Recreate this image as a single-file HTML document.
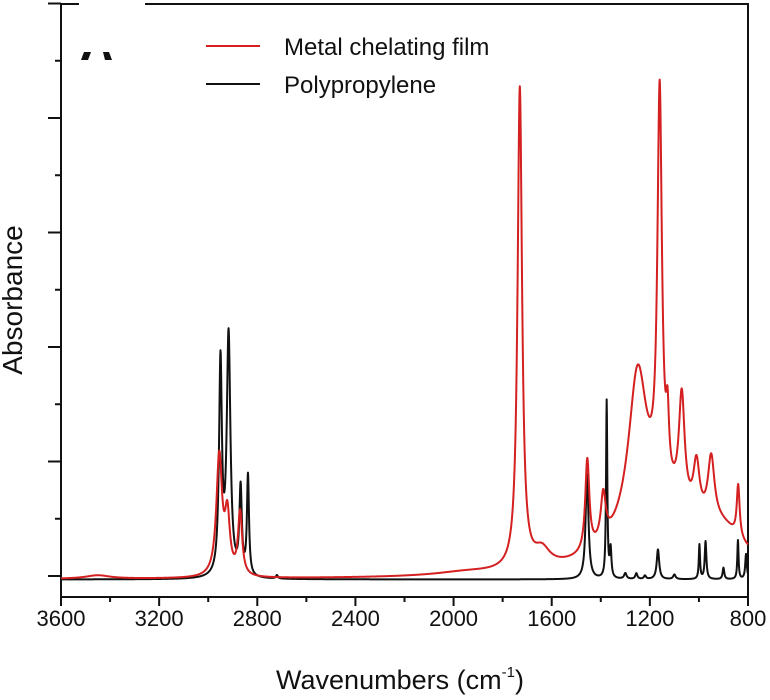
<!DOCTYPE html>
<html><head><meta charset="utf-8"><style>
html,body{margin:0;padding:0;background:#fff;width:770px;height:700px;overflow:hidden}
svg{display:block}
text{font-family:"Liberation Sans",Arial,sans-serif}
</style></head><body>
<svg id="chart" width="770" height="700" viewBox="0 0 770 700">
<g id="axes"></g>
<g id="series"></g>
<g>
<rect x="79" y="0" width="66" height="48" fill="#fff"/>
<path d="M81 60 L84 52 L91 52 L88 60 Z M103 52 L109 52 L112 60 L105 60 Z" fill="#111"/>
</g>
<g>
<line x1="206" y1="46" x2="260" y2="46" stroke="#d42020" stroke-width="2"/>
<text x="284" y="55" font-size="24" fill="#111">Metal chelating film</text>
<line x1="206" y1="84" x2="260" y2="84" stroke="#111" stroke-width="2"/>
<text x="284" y="93" font-size="24" fill="#111">Polypropylene</text>
</g>
<text x="22" y="300" font-size="28" fill="#111" text-anchor="middle" transform="rotate(-90 22 300)">Absorbance</text>
<text x="400" y="689" font-size="27" fill="#111" text-anchor="middle">Wavenumbers (cm<tspan font-size="15" dy="-12">-1</tspan><tspan dy="12">)</tspan></text>
</svg>
<script>
// data
const xTicks = [3600,3200,2800,2400,2000,1600,1200,800];
const ppCenters = [2950,2917,2868,2838,2720,1456,1376,1360,1300,1255,1220,1167,1100,998,973,900,841,808];
const ppHeights = [1.85,2.1,0.75,0.87,0.03,0.92,1.55,0.25,0.05,0.05,0.03,0.26,0.04,0.3,0.33,0.1,0.34,0.22];
const ppWidths  = [7,9,6,5,5,7,3,4,6,5,5,6,6,3,4,4,3,4];
const mcCenters = [2955,2922,2870,3450,1950,1730,1640,1455,1390,1250,1160,1128,1070,1010,950,840,1150,900];
const mcHeights = [1.05,0.5,0.55,0.03,0.03,4.2,0.15,0.8,0.4,1.35,3.45,0.5,0.95,0.45,0.55,0.45,0.55,0.25];
const mcWidths  = [14,12,10,60,150,11,40,10,12,45,11,7,14,15,16,7,190,110];

const X0=61,X1=748,YT=4,YB=597, Y0=576, UNIT=114.5;
const xs = w => X0 + (3600-w)/2800*(X1-X0);
const ys = v => Y0 - v*UNIT;
const NS='http://www.w3.org/2000/svg';
const axes=document.getElementById('axes'), series=document.getElementById('series');
function mk(t,a,p){const e=document.createElementNS(NS,t);for(const k in a)e.setAttribute(k,a[k]);p.appendChild(e);return e;}
let fr=mk('rect',{x:X0,y:YT,width:X1-X0,height:YB-YT,fill:'none',stroke:'#111','stroke-width':2},axes);


for(let i=0;i<=10;i++){
  const y=Y0-i*UNIT/2; if(y<YT-1)break;
  const major=i%2===0;
  const t=mk('line',{x1:major?X0-13:X0-6,x2:X0,y1:y,y2:y,stroke:'#111','stroke-width':2},axes);
  
  
}
xTicks.forEach((w,i)=>{
  const x=xs(w);
  const t=mk('line',{x1:x,x2:x,y1:YB,y2:YB+9,stroke:'#111','stroke-width':2},axes);
  
  
  if(i<xTicks.length-1){const xm=xs(w-200);
    const m=mk('line',{x1:xm,x2:xm,y1:YB,y2:YB+5,stroke:'#111','stroke-width':2},axes);
    
    }
  const l=mk('text',{x:x,y:626,'font-size':22,'text-anchor':'middle',fill:'#111'},axes);
  l.textContent=w;
  
  
});
function spectrum(c,h,wd,base){
  let d='';
  for(let w=3600;w>=800;w-=1){
    let v=base;
    for(let i=0;i<c.length;i++){const z=(w-c[i])/wd[i];v+=h[i]/(1+z*z);}
    d+=(d?'L':'M')+xs(w).toFixed(2)+' '+ys(v).toFixed(2);
  }
  return d;
}
const pp=mk('path',{d:spectrum(ppCenters,ppHeights,ppWidths,-0.03),fill:'none',stroke:'#111','stroke-width':2,'stroke-linejoin':'round'},series);


const mc=mk('path',{d:spectrum(mcCenters,mcHeights,mcWidths,-0.03),fill:'none',stroke:'#d42020','stroke-width':2,'stroke-linejoin':'round'},series);


</script>
</body></html>
